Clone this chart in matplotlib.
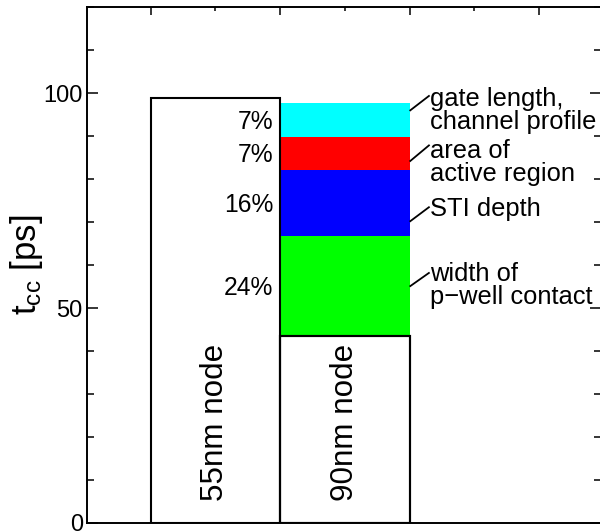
import numpy as np
import matplotlib
matplotlib.use('Agg')
import matplotlib.pyplot as plt
from matplotlib.ticker import MultipleLocator

plt.rcParams['font.family'] = ['Liberation Sans', 'DejaVu Sans']
plt.rcParams['mathtext.default'] = 'regular'

# delay per node [ps]
nodes = ['55nm node', '90nm node']
node_x = [1, 2]
node_tcc = [98.8, 43.4]

# 90nm improvements stacked on the base bar (bottom -> top)
factor_labels = ['width of\np\u2212well contact', 'STI depth',
                 'area of\nactive region', 'gate length,\nchannel profile']
factor_delta = [23.3, 15.4, 7.7, 7.85]
factor_pct = ['24%', '16%', '7%', '7%']
factor_colors = ['#00ff00', '#0000ff', '#ff0000', '#00ffff']

# where the leader lines leave the bar, and where the text sits
leader_y = [55.0, 70.1, 84.1, 95.9]
label_y = [58.3, 73.6, 88.0, 99.5]
label_top = [60.8, 75.8, 89.4, 101.5]

fig = plt.figure(figsize=(6, 5.31), dpi=100)
ax = fig.add_axes([0.145, 0.0152, 0.857, 0.971])

# stacked coloured segments on top of the 90nm base
bottom = node_tcc[1]
for d, c, p in zip(factor_delta, factor_colors, factor_pct):
    ax.bar(node_x[1], d, bottom=bottom, width=1.0, color=c, linewidth=0, zorder=1)
    ax.text(node_x[1] - 0.552, bottom + d / 2 - 0.4, p, ha='right', va='center',
            fontsize=17.7, zorder=4)
    bottom += d

# outlined node bars
ax.bar(node_x, node_tcc, width=1.0, facecolor='none', edgecolor='black',
       linewidth=1.5, zorder=3)
ax.bar(node_x[1], node_tcc[1], width=1.0, facecolor='white', edgecolor='black',
       linewidth=1.5, zorder=2)

for x, name in zip(node_x, nodes):
    ax.text(x, 23.3, name, rotation=90, ha='center', va='center', fontsize=22.6, zorder=4)

# leader lines and factor names
x_edge = node_x[1] + 0.5
x_txt = x_edge + 0.16
for lab, ly, ty, tt in zip(factor_labels, leader_y, label_y, label_top):
    ax.plot([x_edge, x_txt - 0.005], [ly, ty], color='black', lw=1.3,
            solid_capstyle='butt', zorder=4, clip_on=False)
    ax.text(x_txt, tt, lab, ha='left', va='top', fontsize=18.4, linespacing=0.98, zorder=4)

ax.set_xlim(0.009, 3.98)
ax.set_ylim(0, 120)

ax.yaxis.set_major_locator(MultipleLocator(50))
ax.yaxis.set_minor_locator(MultipleLocator(10))
ax.xaxis.set_major_locator(MultipleLocator(1.0, offset=0.5))
ax.xaxis.set_minor_locator(MultipleLocator(1.0))

ax.tick_params(axis='y', which='both', direction='in', left=True, right=True,
               labelsize=17, pad=3, width=1.1)
ax.tick_params(axis='y', which='major', length=8)
ax.tick_params(axis='y', which='minor', length=5)
ax.tick_params(axis='x', which='both', direction='in', top=True, bottom=False,
               labelbottom=False, width=1.1)
ax.tick_params(axis='x', which='major', length=6)
ax.tick_params(axis='x', which='minor', length=3)

for s in ax.spines.values():
    s.set_linewidth(1.4)

ax.text(-0.117, 0.5, '$t_{cc}$ [ps]', transform=ax.transAxes, rotation=90,
        ha='center', va='center', fontsize=25)

fig.savefig('out.png', dpi=100)
